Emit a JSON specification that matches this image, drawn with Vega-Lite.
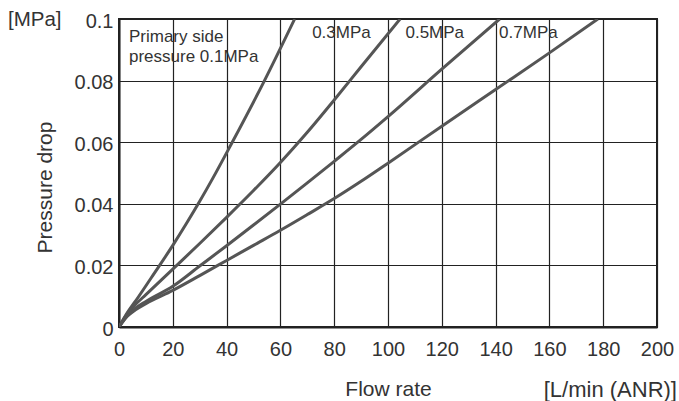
{
  "$schema": "https://vega.github.io/schema/vega-lite/v6.json",
  "width": 538,
  "height": 308,
  "autosize": "none",
  "padding": {"left": 119, "top": 19, "right": 22, "bottom": 74},
  "background": "white",
  "config": {
    "view": {"stroke": "#222", "strokeWidth": 2},
    "font": "Liberation Sans",
    "axis": {
      "grid": true,
      "gridColor": "#222",
      "gridWidth": 1.2,
      "gridOpacity": 1,
      "ticks": false,
      "domain": true,
      "domainColor": "#222",
      "domainWidth": 2,
      "labelFlush": false,
      "labelFont": "Liberation Sans",
      "labelFontSize": 20,
      "labelColor": "#333",
      "titleFont": "Liberation Sans",
      "titleFontSize": 21,
      "titleFontWeight": "normal",
      "titleColor": "#333"
    }
  },
  "datasets": {
    "curves": [
      {"series": "0.1MPa", "flow": 0, "drop": 0},
      {"series": "0.1MPa", "flow": 3, "drop": 0.0045},
      {"series": "0.1MPa", "flow": 7, "drop": 0.0095},
      {"series": "0.1MPa", "flow": 12, "drop": 0.016},
      {"series": "0.1MPa", "flow": 20, "drop": 0.0265},
      {"series": "0.1MPa", "flow": 25, "drop": 0.0335},
      {"series": "0.1MPa", "flow": 30, "drop": 0.0408},
      {"series": "0.1MPa", "flow": 35, "drop": 0.0485},
      {"series": "0.1MPa", "flow": 41.5, "drop": 0.059},
      {"series": "0.1MPa", "flow": 53.8, "drop": 0.0795},
      {"series": "0.1MPa", "flow": 65.3, "drop": 0.1},
      {"series": "0.3MPa", "flow": 0, "drop": 0},
      {"series": "0.3MPa", "flow": 3, "drop": 0.0042},
      {"series": "0.3MPa", "flow": 6, "drop": 0.0072},
      {"series": "0.3MPa", "flow": 10, "drop": 0.0105},
      {"series": "0.3MPa", "flow": 20, "drop": 0.0188},
      {"series": "0.3MPa", "flow": 30, "drop": 0.0271},
      {"series": "0.3MPa", "flow": 40, "drop": 0.0356},
      {"series": "0.3MPa", "flow": 50, "drop": 0.0443},
      {"series": "0.3MPa", "flow": 60, "drop": 0.0534},
      {"series": "0.3MPa", "flow": 70, "drop": 0.0632},
      {"series": "0.3MPa", "flow": 80, "drop": 0.0737},
      {"series": "0.3MPa", "flow": 90, "drop": 0.0845},
      {"series": "0.3MPa", "flow": 104.5, "drop": 0.1},
      {"series": "0.5MPa", "flow": 0, "drop": 0},
      {"series": "0.5MPa", "flow": 3, "drop": 0.0036},
      {"series": "0.5MPa", "flow": 6, "drop": 0.006},
      {"series": "0.5MPa", "flow": 10, "drop": 0.0083},
      {"series": "0.5MPa", "flow": 20, "drop": 0.0132},
      {"series": "0.5MPa", "flow": 30, "drop": 0.0198},
      {"series": "0.5MPa", "flow": 40, "drop": 0.0264},
      {"series": "0.5MPa", "flow": 50, "drop": 0.0331},
      {"series": "0.5MPa", "flow": 60, "drop": 0.0399},
      {"series": "0.5MPa", "flow": 70, "drop": 0.0468},
      {"series": "0.5MPa", "flow": 80, "drop": 0.0538},
      {"series": "0.5MPa", "flow": 90, "drop": 0.0609},
      {"series": "0.5MPa", "flow": 100, "drop": 0.0683},
      {"series": "0.5MPa", "flow": 120, "drop": 0.0837},
      {"series": "0.5MPa", "flow": 141.5, "drop": 0.1},
      {"series": "0.7MPa", "flow": 0, "drop": 0},
      {"series": "0.7MPa", "flow": 3, "drop": 0.0034},
      {"series": "0.7MPa", "flow": 6, "drop": 0.0055},
      {"series": "0.7MPa", "flow": 10, "drop": 0.0076},
      {"series": "0.7MPa", "flow": 20, "drop": 0.0119},
      {"series": "0.7MPa", "flow": 30, "drop": 0.0167},
      {"series": "0.7MPa", "flow": 40, "drop": 0.0216},
      {"series": "0.7MPa", "flow": 50, "drop": 0.0265},
      {"series": "0.7MPa", "flow": 60, "drop": 0.0314},
      {"series": "0.7MPa", "flow": 70, "drop": 0.0365},
      {"series": "0.7MPa", "flow": 80, "drop": 0.0417},
      {"series": "0.7MPa", "flow": 90, "drop": 0.0473},
      {"series": "0.7MPa", "flow": 100, "drop": 0.0532},
      {"series": "0.7MPa", "flow": 120, "drop": 0.0652},
      {"series": "0.7MPa", "flow": 140, "drop": 0.0771},
      {"series": "0.7MPa", "flow": 160, "drop": 0.089},
      {"series": "0.7MPa", "flow": 178, "drop": 0.1}
    ],
    "labels": [
      {"label": "Primary side", "x": 3.7, "y": 0.0925},
      {"label": "pressure 0.1MPa", "x": 3.7, "y": 0.0862},
      {"label": "0.3MPa", "x": 71.8, "y": 0.0938},
      {"label": "0.5MPa", "x": 106.5, "y": 0.0938},
      {"label": "0.7MPa", "x": 141.3, "y": 0.0938}
    ]
  },
  "layer": [
    {
      "data": {"name": "curves"},
      "mark": {"type": "line", "color": "#555", "strokeWidth": 3, "interpolate": "monotone", "clip": true},
      "encoding": {
        "x": {
          "field": "flow",
          "type": "quantitative",
          "scale": {"domain": [0, 200], "nice": false, "zero": true},
          "axis": {
            "values": [0, 20, 40, 60, 80, 100, 120, 140, 160, 180, 200],
            "labelPadding": 12,
            "title": "Flow rate",
            "titleY": 62,
            "titleBaseline": "middle"
          }
        },
        "y": {
          "field": "drop",
          "type": "quantitative",
          "scale": {"domain": [0, 0.1], "nice": false},
          "axis": {
            "values": [0, 0.02, 0.04, 0.06, 0.08, 0.1],
            "labelExpr": "datum.value == 0 ? '0' : format(datum.value, '.2~f')",
            "labelPadding": 6,
            "labelOffset": 2,
            "title": "Pressure drop",
            "titleX": -74,
            "titleY": 168,
            "titleAlign": "center",
            "titleBaseline": "middle",
            "titleAngle": -90
          }
        },
        "detail": {"field": "series"},
        "order": {"field": "flow"}
      }
    },
    {
      "data": {"name": "labels"},
      "mark": {"type": "text", "align": "left", "baseline": "alphabetic", "fontSize": 17, "color": "#333", "font": "Liberation Sans"},
      "encoding": {
        "x": {"field": "x", "type": "quantitative"},
        "y": {"field": "y", "type": "quantitative"},
        "text": {"field": "label"}
      }
    },
    {
      "data": {"values": [{}]},
      "mark": {"type": "text", "text": "[MPa]", "align": "left", "baseline": "middle", "fontSize": 20.5, "color": "#333", "font": "Liberation Sans", "dx": -111, "dy": 1},
      "encoding": {"x": {"datum": 0}, "y": {"datum": 0.1}}
    },
    {
      "data": {"values": [{}]},
      "mark": {"type": "text", "text": "[L/min (ANR)]", "align": "right", "baseline": "middle", "fontSize": 22, "color": "#333", "font": "Liberation Sans", "dx": 20, "dy": 63},
      "encoding": {"x": {"datum": 200}, "y": {"datum": 0}}
    }
  ]
}
